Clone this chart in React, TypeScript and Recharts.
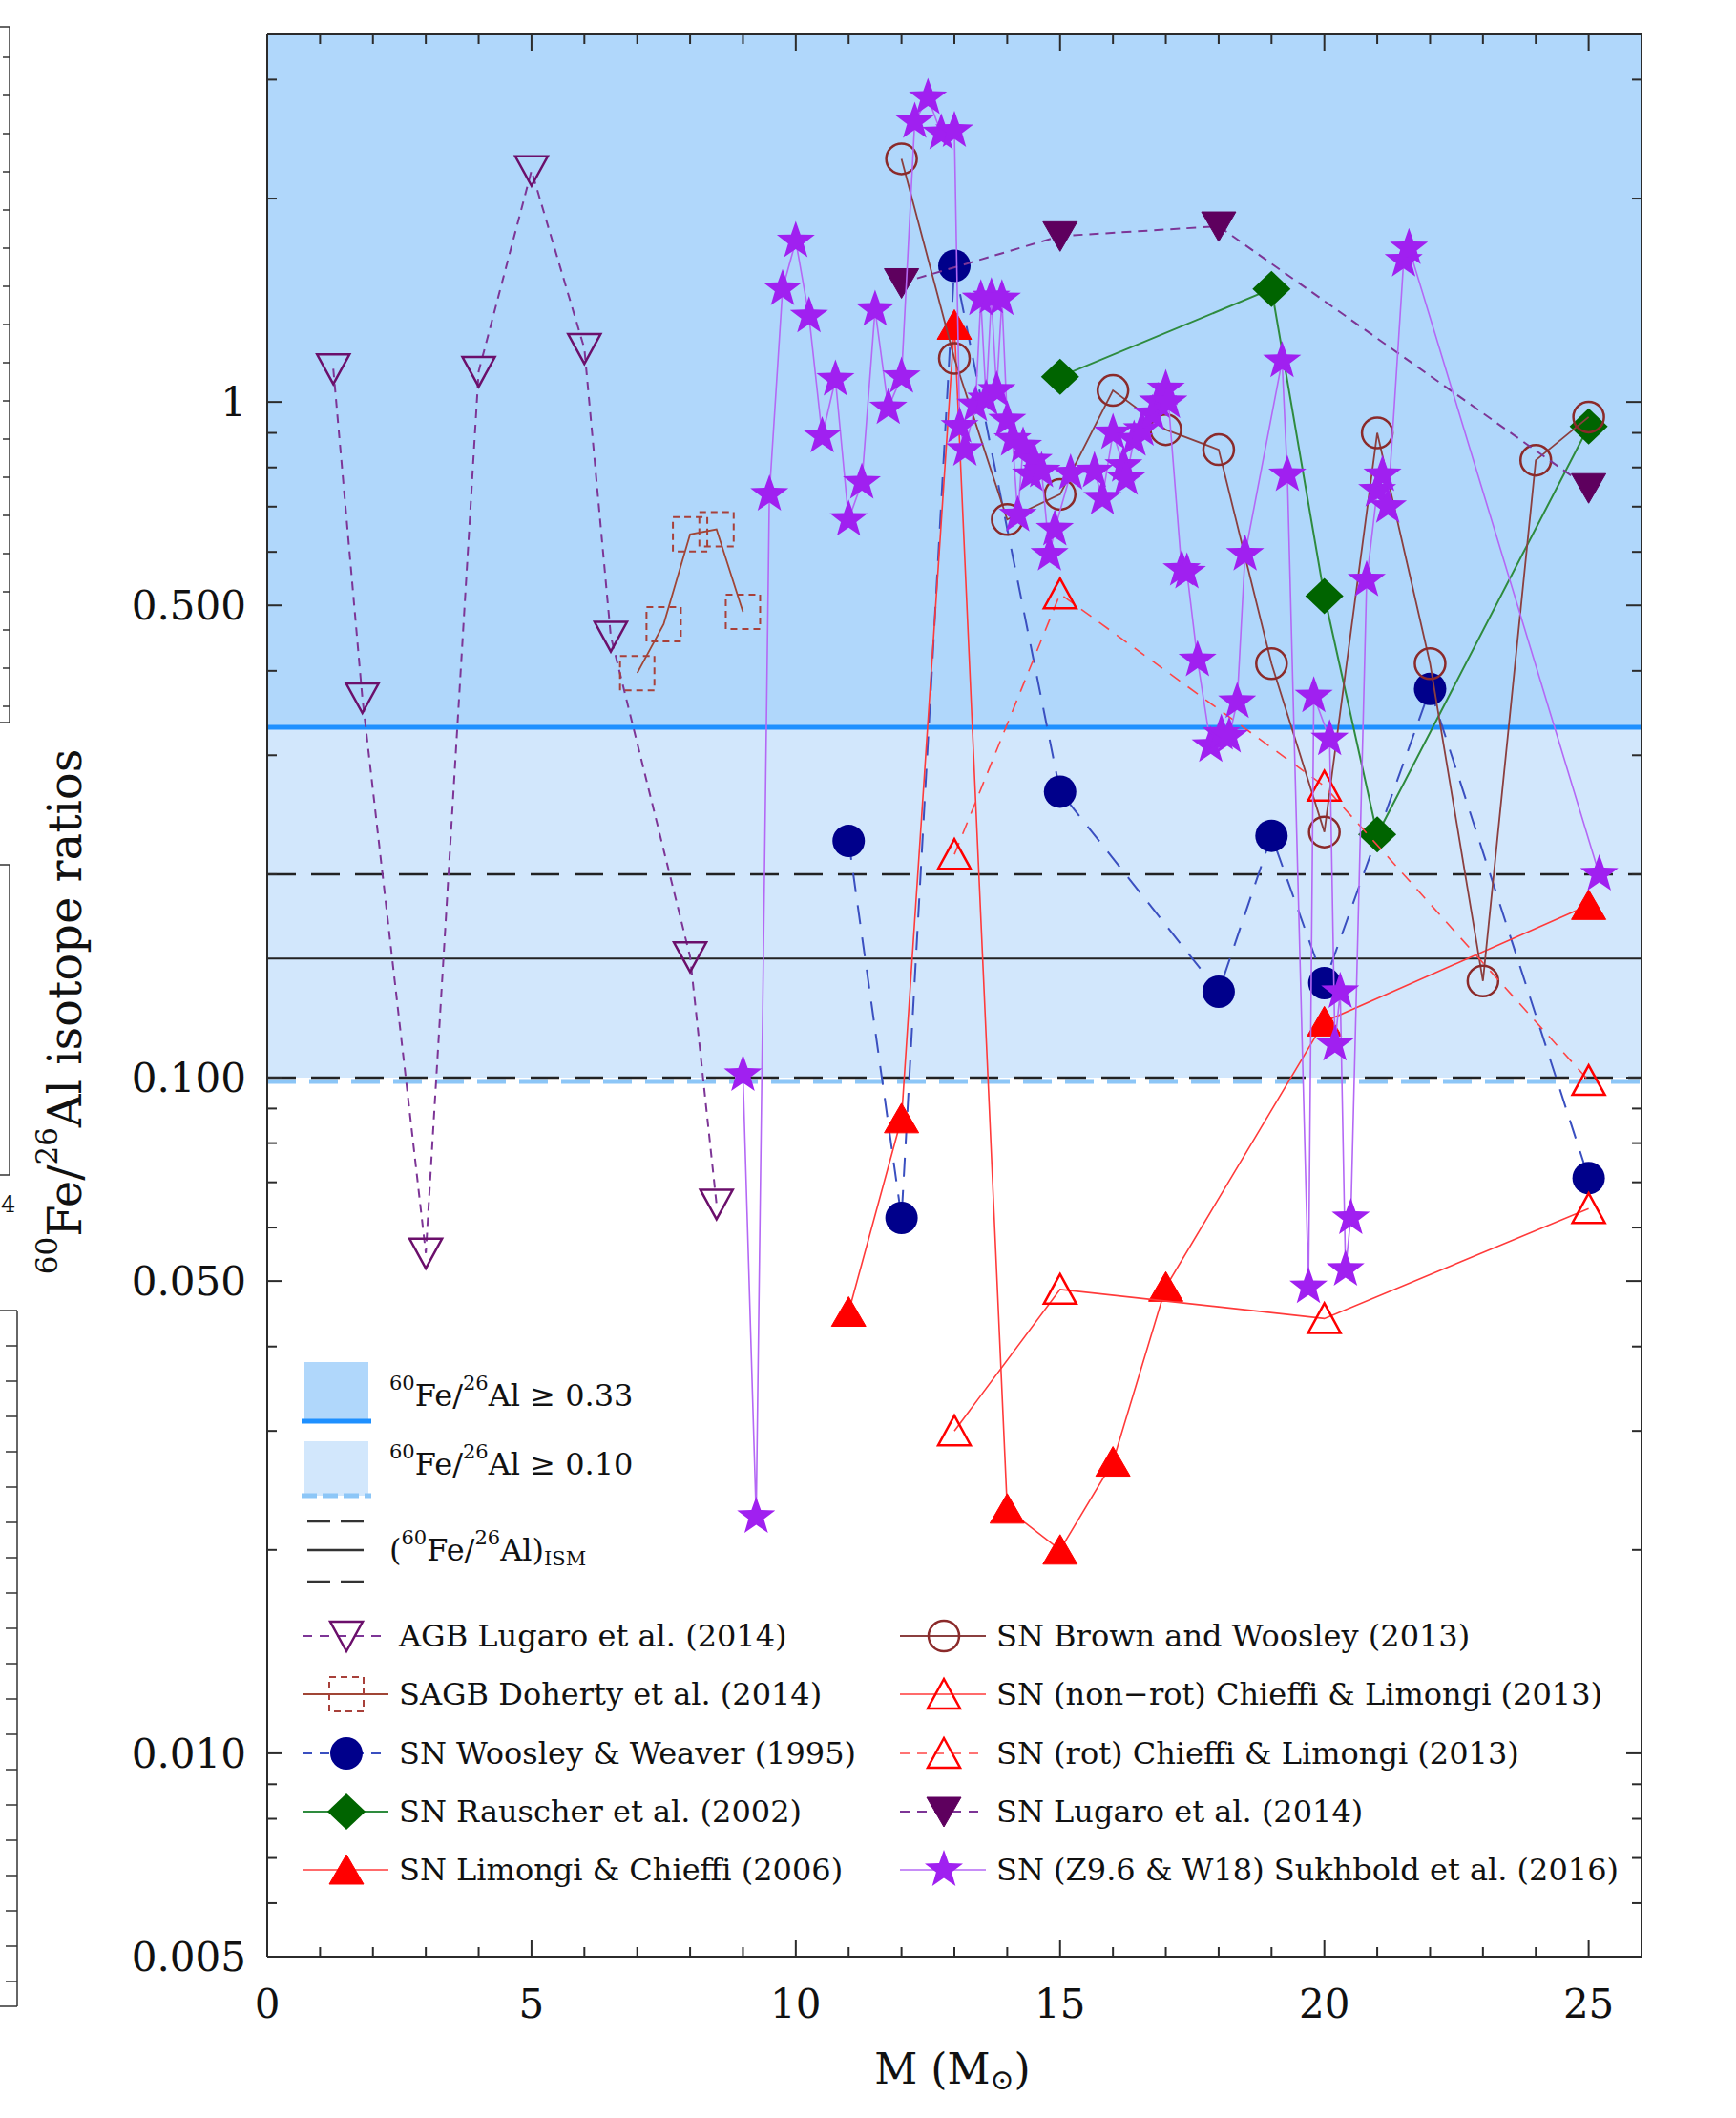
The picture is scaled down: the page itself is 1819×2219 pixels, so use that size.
import { ScatterChart, Scatter, XAxis, YAxis, ReferenceArea, ReferenceLine } from 'recharts';

const W = 1819;
const H = 2219;
const FONT = '"DejaVu Serif", serif';
const AX = '#2b2b2b';

// AGB Lugaro et al. (2014)
const agbMass = [1.25, 1.8, 3, 4, 5, 6, 6.5, 8, 8.5];
const agbRatio = [1.12, 0.365, 0.055, 1.11, 2.2, 1.2, 0.45, 0.151, 0.065];

// SAGB Doherty et al. (2014)
const sagbMass = [7.0, 7.5, 8.0, 8.5, 9.0];
const sagbRatio = [0.397, 0.469, 0.637, 0.648, 0.489];

// SN Woosley & Weaver (1995)
const wwMass = [11, 12, 13, 15, 18, 19, 20, 22, 25];
const wwRatio = [0.224, 0.062, 1.59, 0.265, 0.134, 0.228, 0.138, 0.376, 0.071];

// SN Rauscher et al. (2002)
const rauMass = [15, 19, 20, 21, 25];
const rauRatio = [1.09, 1.47, 0.516, 0.229, 0.92];

// SN Limongi & Chieffi (2006)
const lc06Mass = [11, 12, 13, 14, 15, 16, 17, 20, 25];
const lc06Ratio = [0.045, 0.087, 1.3, 0.023, 0.02, 0.027, 0.049, 0.121, 0.18];

// SN Brown and Woosley (2013)
const bwMass = [12, 13, 14, 15, 16, 17, 18, 19, 20, 21, 22, 23, 24, 25];
const bwRatio = [2.29, 1.16, 0.67, 0.73, 1.04, 0.91, 0.85, 0.41, 0.231, 0.9, 0.41, 0.139, 0.82, 0.95];

// SN (non-rot) Chieffi & Limongi (2013)
const clNrMass = [13, 15, 20, 25];
const clNrRatio = [0.03, 0.0486, 0.044, 0.064];

// SN (rot) Chieffi & Limongi (2013)
const clRotMass = [13, 15, 20, 25];
const clRotRatio = [0.214, 0.52, 0.27, 0.099];

// SN Lugaro et al. (2014)
const lugMass = [12, 15, 18, 25];
const lugRatio = [1.5, 1.76, 1.82, 0.746];

// SN (Z9.6 & W18) Sukhbold et al. (2016)
const sukMass = [
  9.0, 9.25, 9.5, 9.75, 10.0, 10.25, 10.5, 10.75, 11.0, 11.25, 11.5, 11.75, 12.0,
  12.25, 12.5, 12.75, 13.0, 13.1, 13.2, 13.4, 13.5, 13.6, 13.7, 13.8, 13.9,
  14.0, 14.1, 14.2, 14.3, 14.45, 14.5, 14.65, 14.8, 14.9, 15.2, 15.65, 15.8,
  16.0, 16.2, 16.25, 16.4, 16.55, 16.75, 16.85, 17.0, 17.05, 17.3, 17.4, 17.6,
  17.85, 18.05, 18.2, 18.35, 18.5, 19.2, 19.3, 19.7, 19.8, 20.1, 20.2, 20.3,
  20.4, 20.5, 20.8, 21.0, 21.1, 21.2, 21.5, 21.6, 25.2,
];
const sukRatio = [
  0.101, 0.0224, 0.73, 1.47, 1.73, 1.34, 0.89, 1.08, 0.67, 0.76, 1.37, 0.98, 1.09,
  2.6, 2.82, 2.5, 2.52, 0.92, 0.85, 0.99, 1.42, 1.01, 1.43, 1.04, 1.42,
  0.94, 0.88, 0.68, 0.86, 0.78, 0.82, 0.79, 0.595, 0.648, 0.784, 0.79, 0.72,
  0.9, 0.805, 0.77, 0.88, 0.91, 0.96, 1.0, 1.045, 1.0, 0.565, 0.56, 0.415,
  0.31, 0.323, 0.32, 0.36, 0.595, 1.15, 0.78, 0.049, 0.367, 0.317, 0.112, 0.134,
  0.052, 0.062, 0.545, 0.74, 0.78, 0.7, 1.62, 1.69, 0.2,
];

// axis ticks
const xTicks = [0, 1, 2, 3, 4, 5, 6, 7, 8, 9, 10, 11, 12, 13, 14, 15, 16, 17, 18, 19, 20, 21, 22, 23, 24, 25];
const xLabelled = [0, 5, 10, 15, 20, 25];
const yMajor = [0.005, 0.01, 0.05, 0.1, 0.5, 1];
const yMinor = [0.006, 0.007, 0.008, 0.009, 0.02, 0.03, 0.04, 0.06, 0.07, 0.08, 0.09, 0.2, 0.3, 0.4, 0.6, 0.7, 0.8, 0.9, 2, 3];

const X_DOMAIN: [number, number] = [0, 26];
const Y_DOMAIN: [number, number] = [0.005, 3.5];

// ISM ratio and band limits
const bandHigh = 0.33;
const bandLow = 0.1;
const ismMid = 0.15;
const ismHigh = 0.2;
const ismLow = 0.1;

const BAND_DARK = '#b0d7fb';
const BAND_LIGHT = '#d2e7fc';

// plot box
const M_TOP = 36;
const M_BOTTOM = 109;
const X_AXIS_H = 60;
const PLOT_H = H - M_TOP - M_BOTTOM - X_AXIS_H;
const X_TICK_MARGIN = 34;
const LABEL_SIZE = 42;

const pts = (xs: number[], ys: number[]) => xs.map((x, i) => ({ x, y: ys[i] }));

type Kind = 'downOpen' | 'downFilled' | 'square' | 'circleFilled' | 'circleOpen' | 'diamond' | 'upFilled' | 'upOpen' | 'star';

function starPath(cx: number, cy: number, R: number, r: number) {
  let d = '';
  for (let i = 0; i < 10; i++) {
    const a = -Math.PI / 2 + (i * Math.PI) / 5;
    const rad = i % 2 === 0 ? R : r;
    d += (i === 0 ? 'M' : 'L') + (cx + rad * Math.cos(a)).toFixed(1) + ',' + (cy + rad * Math.sin(a)).toFixed(1);
  }
  return d + 'Z';
}

function Marker({ kind, cx, cy, color }: { kind: Kind; cx?: number; cy?: number; color: string }) {
  if (cx == null || cy == null || isNaN(cx) || isNaN(cy)) return <g />;
  switch (kind) {
    case 'downOpen':
      return <path d={`M${cx - 17},${cy - 15}L${cx + 17},${cy - 15}L${cx},${cy + 16}Z`} fill="none" stroke={color} strokeWidth={2.5} />;
    case 'downFilled':
      return <path d={`M${cx - 18},${cy - 15}L${cx + 18},${cy - 15}L${cx},${cy + 16}Z`} fill={color} stroke={color} strokeWidth={1} />;
    case 'upOpen':
      return <path d={`M${cx},${cy - 16}L${cx - 17},${cy + 15}L${cx + 17},${cy + 15}Z`} fill="none" stroke={color} strokeWidth={2.5} />;
    case 'upFilled':
      return <path d={`M${cx},${cy - 16}L${cx - 18},${cy + 15}L${cx + 18},${cy + 15}Z`} fill={color} stroke={color} strokeWidth={1} />;
    case 'circleOpen':
      return <circle cx={cx} cy={cy} r={16} fill="none" stroke={color} strokeWidth={2.5} />;
    case 'circleFilled':
      return <circle cx={cx} cy={cy} r={17} fill={color} />;
    case 'diamond':
      return <path d={`M${cx},${cy - 19}L${cx + 20},${cy}L${cx},${cy + 19}L${cx - 20},${cy}Z`} fill={color} />;
    case 'square':
      return <rect x={cx - 18} y={cy - 18} width={36} height={36} fill="none" stroke={color} strokeWidth={2} strokeDasharray="7 5" />;
    case 'star':
      return <path d={starPath(cx, cy, 21, 8.5)} fill={color} />;
  }
  return <g />;
}

interface Series {
  name: string;
  data: { x: number; y: number }[];
  kind: Kind;
  color: string;
  line: string;
  lw: number;
  dash?: string;
}

const series: Series[] = [
  { name: 'AGB Lugaro et al. (2014)', data: pts(agbMass, agbRatio), kind: 'downOpen', color: '#6b0f6b', line: '#7d3596', lw: 2, dash: '9 7' },
  { name: 'SAGB Doherty et al. (2014)', data: pts(sagbMass, sagbRatio), kind: 'square', color: '#a8403a', line: '#a04535', lw: 1.8 },
  { name: 'SN Woosley & Weaver (1995)', data: pts(wwMass, wwRatio), kind: 'circleFilled', color: '#00008b', line: '#3a4fc0', lw: 2, dash: '20 14' },
  { name: 'SN Rauscher et al. (2002)', data: pts(rauMass, rauRatio), kind: 'diamond', color: '#006400', line: '#2e8b3e', lw: 2 },
  { name: 'SN Limongi & Chieffi (2006)', data: pts(lc06Mass, lc06Ratio), kind: 'upFilled', color: '#ff0000', line: '#ff3a3a', lw: 1.6 },
  { name: 'SN Brown and Woosley (2013)', data: pts(bwMass, bwRatio), kind: 'circleOpen', color: '#8b2a2a', line: '#8b3f3f', lw: 1.8 },
  { name: 'SN (non\u2212rot) Chieffi & Limongi (2013)', data: pts(clNrMass, clNrRatio), kind: 'upOpen', color: '#ff0000', line: '#ff3a3a', lw: 1.6 },
  { name: 'SN (rot) Chieffi & Limongi (2013)', data: pts(clRotMass, clRotRatio), kind: 'upOpen', color: '#ff0000', line: '#ff4545', lw: 1.6, dash: '13 10' },
  { name: 'SN Lugaro et al. (2014)', data: pts(lugMass, lugRatio), kind: 'downFilled', color: '#5e005e', line: '#7d3596', lw: 2, dash: '10 7' },
  { name: 'SN (Z9.6 & W18) Sukhbold et al. (2016)', data: pts(sukMass, sukRatio), kind: 'star', color: '#a020f0', line: '#b468f5', lw: 1.6 },
];

const NoTick = () => <g />;

const tickFmt = (v: number) => (v === 1 ? '1' : v.toFixed(3));

// x tick: label for multiples of 5, inward marks at the bottom and top of the frame
function XTick(props: any) {
  const { x, y, payload } = props;
  const v = payload?.value as number;
  const axisY = y - X_TICK_MARGIN;
  const topY = axisY - PLOT_H;
  const major = xLabelled.includes(v);
  const len = major ? 17 : 10;
  return (
    <g>
      <line x1={x} x2={x} y1={axisY} y2={axisY - len} stroke={AX} strokeWidth={2} />
      <line x1={x} x2={x} y1={topY} y2={topY + len} stroke={AX} strokeWidth={2} />
      {major && (
        <text x={x} y={y} dy="0.71em" textAnchor="middle" fontSize={LABEL_SIZE} fill="#111" fontFamily={FONT}>
          {v}
        </text>
      )}
    </g>
  );
}

function LegendRow({ s, x, y }: { s: Series; x: number; y: number }) {
  return (
    <g>
      <line x1={x} x2={x + 90} y1={y} y2={y} stroke={s.line} strokeWidth={s.lw} strokeDasharray={s.dash ? '10 8' : undefined} />
      <Marker kind={s.kind} cx={x + 46} cy={y} color={s.color} />
      <text x={x + 101} y={y} dominantBaseline="central" fontSize={32} fill="#111">
        {s.name}
      </text>
    </g>
  );
}

function FeAl({ size, sup }: { size: number; sup: number }) {
  const d = Math.round(size * 0.4);
  return (
    <>
      <tspan fontSize={sup} dy={-d}>60</tspan>
      <tspan fontSize={size} dy={d}>Fe/</tspan>
      <tspan fontSize={sup} dy={-d}>26</tspan>
      <tspan fontSize={size} dy={d}>Al</tspan>
    </>
  );
}

function Overlay() {
  const rows = [1714, 1775, 1837, 1898, 1959];
  const boxTicks1 = [60, 100, 140, 180, 220, 260, 300, 340, 380, 420, 460, 500, 540, 580, 620, 660, 700, 740];
  const boxTicks3 = [1410, 1447, 1484, 1521, 1558, 1595, 1632, 1669, 1706, 1743, 1780, 1817, 1854, 1891, 1928, 1965, 2002, 2039, 2076];
  return (
    <svg width={W} height={H} style={{ position: 'absolute', left: 0, top: 0, pointerEvents: 'none', fontFamily: FONT }}>
      {/* neighbouring panel edges cut off at the left */}
      <g stroke="#333" strokeWidth={1.5}>
        <line x1={10} x2={10} y1={28} y2={757} />
        <line x1={0} x2={10} y1={28} y2={28} />
        <line x1={0} x2={10} y1={757} y2={757} />
        {boxTicks1.map((t) => <line key={t} x1={3} x2={10} y1={t} y2={t} />)}
        <line x1={10} x2={10} y1={906} y2={1231} />
        <line x1={0} x2={10} y1={906} y2={906} />
        <line x1={0} x2={10} y1={1231} y2={1231} />
        <line x1={18} x2={18} y1={1373} y2={2102} />
        <line x1={0} x2={18} y1={1373} y2={1373} />
        <line x1={0} x2={18} y1={2102} y2={2102} />
        {boxTicks3.map((t) => <line key={t} x1={6} x2={18} y1={t} y2={t} />)}
      </g>
      <text x={1} y={1262} fontSize={24} fill="#111" dominantBaseline="central">4</text>

      {/* axis titles */}
      <text x={68} y={1060} transform="rotate(-90 68 1060)" textAnchor="middle" dominantBaseline="central" fill="#111">
        <FeAl size={48} sup={31} />
        <tspan fontSize={48}> isotope ratios</tspan>
      </text>
      <text x={998} y={2183} textAnchor="middle" fontSize={44} fill="#111">
        M (M<tspan fontSize={30} dy={6}>{'\u2299'}</tspan><tspan dy={-6}>)</tspan>
      </text>

      {/* legend: bands */}
      <rect x={319} y={1427} width={67} height={62} fill={BAND_DARK} />
      <line x1={316} x2={389} y1={1489} y2={1489} stroke="#1e90ff" strokeWidth={5} />
      <text x={408} y={1462} dominantBaseline="central" fill="#111">
        <FeAl size={32} sup={21} />
        <tspan fontSize={32}> {'\u2265'} 0.33</tspan>
      </text>
      <rect x={319} y={1510} width={67} height={57} fill={BAND_LIGHT} />
      <line x1={316} x2={389} y1={1567} y2={1567} stroke="#8cc6f7" strokeWidth={5} strokeDasharray="16 6" />
      <text x={408} y={1534} dominantBaseline="central" fill="#111">
        <FeAl size={32} sup={21} />
        <tspan fontSize={32}> {'\u2265'} 0.10</tspan>
      </text>
      <line x1={322} x2={381} y1={1594} y2={1594} stroke="#333" strokeWidth={2.5} strokeDasharray="24 11" />
      <line x1={322} x2={381} y1={1624} y2={1624} stroke="#333" strokeWidth={2.5} />
      <line x1={322} x2={381} y1={1657} y2={1657} stroke="#333" strokeWidth={2.5} strokeDasharray="24 11" />
      <text x={408} y={1624} dominantBaseline="central" fill="#111">
        <tspan fontSize={32}>(</tspan>
        <FeAl size={32} sup={21} />
        <tspan fontSize={32}>)</tspan>
        <tspan fontSize={21} dy={9}>ISM</tspan>
      </text>

      {/* legend: series */}
      {series.slice(0, 5).map((s, i) => <LegendRow key={s.name} s={s} x={317} y={rows[i]} />)}
      {series.slice(5).map((s, i) => <LegendRow key={s.name} s={s} x={943} y={rows[i]} />)}
    </svg>
  );
}

export default function App() {
  const labelTick = { fontSize: LABEL_SIZE, fill: '#111', fontFamily: FONT };
  const tl = { stroke: AX, strokeWidth: 2 };
  const yHi = Y_DOMAIN[1];
  return (
    <div style={{ position: 'absolute', left: 0, top: 0, width: W, height: H, background: '#fff', overflow: 'hidden', fontFamily: FONT }}>
      <ScatterChart width={W} height={H} margin={{ top: M_TOP, right: 99, bottom: M_BOTTOM, left: 180 }}>
        {/* shaded bands */}
        <ReferenceArea xAxisId="x" yAxisId="y" y1={bandHigh} y2={yHi} fill={BAND_DARK} fillOpacity={1} stroke="none" />
        <ReferenceArea xAxisId="x" yAxisId="y" y1={bandLow} y2={bandHigh} fill={BAND_LIGHT} fillOpacity={1} stroke="none" />
        <ReferenceLine xAxisId="x" yAxisId="y" y={bandHigh} stroke="#1e90ff" strokeWidth={5} />
        <ReferenceLine xAxisId="x" yAxisId="y" y={bandLow * 0.987} stroke="#8cc6f7" strokeWidth={5} strokeDasharray="30 14" />
        <ReferenceLine xAxisId="x" yAxisId="y" y={ismHigh} stroke="#222" strokeWidth={2.5} strokeDasharray="30 16" />
        <ReferenceLine xAxisId="x" yAxisId="y" y={ismMid} stroke="#222" strokeWidth={2} />
        <ReferenceLine xAxisId="x" yAxisId="y" y={ismLow} stroke="#222" strokeWidth={2.5} strokeDasharray="30 16" />
        <ReferenceLine xAxisId="x" yAxisId="y" y={yHi} stroke={AX} strokeWidth={2} ifOverflow="visible" />

        {/* label axes (x ticks drawn inward by XTick) */}
        <XAxis xAxisId="x" type="number" dataKey="x" domain={X_DOMAIN} allowDataOverflow ticks={xTicks}
          tickLine={false} tickSize={0} tickMargin={X_TICK_MARGIN} height={X_AXIS_H} stroke={AX} axisLine={tl}
          tick={XTick} interval={0} />
        <YAxis yAxisId="y" type="number" dataKey="y" scale="log" domain={Y_DOMAIN} allowDataOverflow ticks={yMajor}
          tickFormatter={tickFmt} tickLine={false} tickSize={0} tickMargin={22} width={100} stroke={AX}
          axisLine={tl} tick={labelTick} interval={0} />

        {/* inward tick marks, left and right */}
        <YAxis yAxisId="yl1" orientation="left" mirror type="number" scale="log" domain={Y_DOMAIN} allowDataOverflow ticks={yMajor}
          width={1} tickSize={16} stroke={AX} tickLine={tl} axisLine={false} tick={NoTick} interval={0} />
        <YAxis yAxisId="yl2" orientation="left" mirror type="number" scale="log" domain={Y_DOMAIN} allowDataOverflow ticks={yMinor}
          width={1} tickSize={9} stroke={AX} tickLine={tl} axisLine={false} tick={NoTick} interval={0} />
        <YAxis yAxisId="yr1" orientation="right" mirror type="number" scale="log" domain={Y_DOMAIN} allowDataOverflow ticks={yMajor}
          width={1} tickSize={16} stroke={AX} tickLine={tl} axisLine={tl} tick={NoTick} interval={0} />
        <YAxis yAxisId="yr2" orientation="right" mirror type="number" scale="log" domain={Y_DOMAIN} allowDataOverflow ticks={yMinor}
          width={1} tickSize={9} stroke={AX} tickLine={tl} axisLine={false} tick={NoTick} interval={0} />

        {series.map((s) => (
          <Scatter
            key={s.name}
            name={s.name}
            xAxisId="x"
            yAxisId="y"
            data={s.data}
            isAnimationActive={false}
            line={{ stroke: s.line, strokeWidth: s.lw, strokeDasharray: s.dash }}
            lineJointType="linear"
            shape={(p: any) => <Marker kind={s.kind} cx={p.cx} cy={p.cy} color={s.color} />}
          />
        ))}
      </ScatterChart>
      <Overlay />
    </div>
  );
}
